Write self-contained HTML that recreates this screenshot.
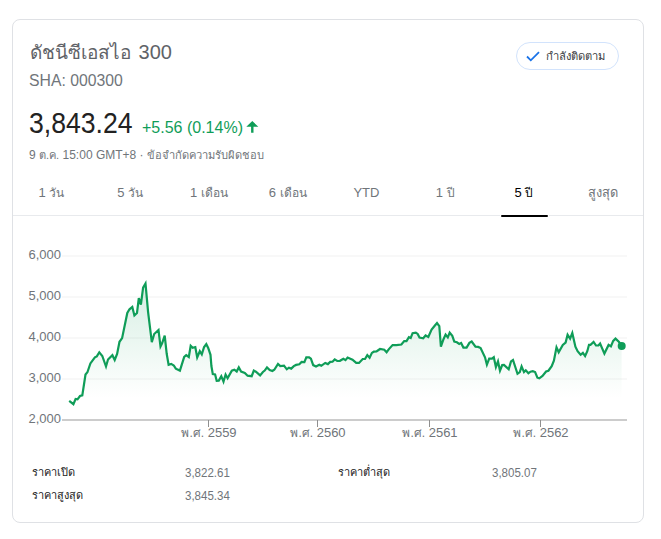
<!DOCTYPE html>
<html><head><meta charset="utf-8">
<style>
html,body{margin:0;padding:0;background:#fff;}
body{width:661px;height:539px;position:relative;overflow:hidden;font-family:"Liberation Sans",sans-serif;}
.card{position:absolute;left:12px;top:19px;width:630px;height:502px;border:1px solid #dfe1e5;border-radius:8px;}
.t{position:absolute;white-space:nowrap;line-height:1;}
.title{left:30px;top:42px;font-size:20px;color:#5f6368;}
.sha{left:29px;top:73px;font-size:16px;color:#70757a;transform:scaleX(0.985);transform-origin:0 0;}
.price{left:29px;top:109px;font-size:28px;color:#222;transform:scale(0.95,1.03);transform-origin:0 0;}
.chg{left:142px;top:120px;font-size:16px;color:#0f9d58;}
.date{left:29px;top:149px;font-size:12px;color:#70757a;}
.follow{position:absolute;left:516px;top:42px;width:101px;height:26px;border:1px solid #d2e3fc;border-radius:14px;}
.follow span{position:absolute;left:29px;top:8px;font-size:11.2px;color:#3c4043;line-height:1;white-space:nowrap;}
.tabs{position:absolute;left:12px;top:185px;width:630px;display:flex;}
.tabs div{flex:1;text-align:center;font-size:13px;color:#70757a;line-height:16px;}
.tabs div.sel{color:#000;}
.sep{position:absolute;left:13px;top:215px;width:487px;height:1px;background:#e8eaed;}
.sep2{position:absolute;left:549px;top:215px;width:94px;height:1px;background:#e8eaed;}
.ul{position:absolute;left:501px;top:215px;width:47px;height:2px;background:#000;border-radius:1px;}
.yl{position:absolute;left:0;width:61px;margin-top:-2px;text-align:right;font-size:13px;color:#70757a;line-height:1;}
.xl{position:absolute;width:100px;margin-top:-2px;text-align:center;font-size:13px;color:#70757a;line-height:1;}
.st{position:absolute;margin-top:1px;font-size:12px;line-height:1;white-space:nowrap;}
.lab{color:#222;}
.val{color:#70757a;transform:scaleX(0.96);transform-origin:0 0;}
</style></head><body>
<div class="card"></div>
<div class="t title"><span style="font-size:19px;margin-right:2px">ดัชนีซีเอสไอ</span> 300</div>
<div class="t sha">SHA: 000300</div>
<div class="t price">3,843.24</div>
<div class="t chg">+5.56 (0.14%)</div>
<svg style="position:absolute;left:0;top:0" width="661" height="539" viewBox="0 0 661 539">
<path d="M252.3 121 L258.3 126.8 L253.5 126.8 L253.5 132.8 L251.1 132.8 L251.1 126.8 L246.3 126.8 Z" fill="#0f9d58"/>
</svg>
<div class="t date">9 <span style="font-size:11.1px">ต.ค.</span> 15:00 GMT+8 · <span style="font-size:11.1px">ข้อจำกัดความรับผิดชอบ</span></div>
<div class="follow"><svg style="position:absolute;left:8.8px;top:7.6px" width="14" height="11" viewBox="0 0 14 11"><path d="M1 5.5 L4.8 9.3 L13 1.2" fill="none" stroke="#1a73e8" stroke-width="1.8"/></svg><span>กำลังติดตาม</span></div>
<div class="tabs"><div>1 <span style="font-size:12px">วัน</span></div><div>5 <span style="font-size:12px">วัน</span></div><div>1 <span style="font-size:12px">เดือน</span></div><div>6 <span style="font-size:12px">เดือน</span></div><div>YTD</div><div>1 <span style="font-size:12px">ปี</span></div><div class="sel">5 <span style="font-size:12px">ปี</span></div><div><span style="font-size:12.8px">สูงสุด</span></div></div>
<div class="sep"></div><div class="sep2"></div>
<div class="ul"></div>
<svg style="position:absolute;left:0;top:0" width="661" height="539" viewBox="0 0 661 539">
<defs><linearGradient id="g" x1="0" y1="281" x2="0" y2="398" gradientUnits="userSpaceOnUse"><stop offset="0" stop-color="#0f9d58" stop-opacity="0.17"/><stop offset="1" stop-color="#0f9d58" stop-opacity="0"/></linearGradient></defs>
<g fill="#f8f8f8"><rect x="62" y="255" width="565" height="2"/><rect x="62" y="296" width="565" height="2"/><rect x="62" y="337" width="565" height="2"/><rect x="62" y="378" width="565" height="2"/></g>
<polygon points="69.2,400.9 73.4,404.2 75.6,399 77.5,399.4 80,396 82.3,395.3 85.5,374.5 87.4,372.3 90.4,363.4 94.9,357.4 96.8,356.4 99.3,352.3 102.3,356 106,366.5 108,359.5 112.4,355.2 114.7,360 117.1,353.9 119.5,341.8 122.1,338.1 127.3,313 129.5,309.3 132.3,306.9 134.4,315.4 137,313 138.8,298.2 140.9,304.7 143.1,287.6 145.5,283.5 148.1,312.1 151.8,342.2 154.2,334 158.5,330 160.5,346.6 162.1,343.4 164.7,335.6 166.7,353.8 168.6,364.8 171.2,363.9 173.8,365.5 175.8,368.7 179.9,370.6 184.2,356.8 186.2,355.1 188.8,357 190.7,345.7 192.7,347.7 195.3,347 197.2,357.4 199.8,351.2 201.8,354.4 204.1,347 206.3,344 208.2,347.9 210.5,354.8 211.4,366 212.8,374.1 215.1,374.5 216.7,380.8 218.8,380.6 221.3,376.2 223.5,381.6 225.6,374.5 227.6,378.2 231.8,370.6 234.3,369.7 236.7,371.5 238.8,367.4 241.1,371.5 244.8,372.9 247.6,375.7 251.7,376.2 253.8,370.6 255.9,371.7 260.1,375.4 262.9,372 264.7,370.6 267,367.4 269.7,370 272.4,371 274.3,369.8 278,364 280.3,366.1 284,365.6 286.8,369.3 288.9,367.7 291.2,368.6 293.8,366.1 296.1,364.9 299.3,364.2 301.6,361.9 304.4,362.1 306.3,357.3 309.1,357.3 310.9,358.7 313.2,365.1 316,366.5 319.3,364.7 321.3,365.8 325.2,362.9 327.9,364.1 330.2,361.9 332.5,361.7 334.7,359.4 337.2,361 339.9,360.8 343.4,358.8 345.5,360.1 347.6,357.6 352.5,359.7 356.2,362.9 359,362.9 362.7,359 365,359 367.3,355.1 369.6,357.8 371.9,352.9 373.8,351.7 376.5,351.5 380,349 384.3,349.7 386.6,352.2 388.9,349.1 392.6,345.1 396.3,345.1 401.4,344.5 404.2,341.1 406.5,341.1 408.9,337.1 410.7,338 412.6,333.2 415.8,332.7 417.7,333.9 419.5,337.6 423.2,338.3 425.6,335.5 428.3,336.9 431.6,329.5 434.5,326 437,323 439.3,326.2 440.9,346.6 443.5,339.2 445.6,334.6 447.8,337.4 449.7,332.7 452.3,335.8 454.3,341.5 456.9,342.3 459.2,343.9 461.1,342.9 463.4,347.6 466.6,347.6 469.4,342.9 471.7,341.5 475.5,346.6 478.2,346.9 480.6,348 485,357.3 486.9,364.7 489.2,358.7 492,358.7 493.8,357.3 495.9,367 498,361.4 500,370.7 502.2,365.1 504,364.9 508.7,369.3 511,361.4 513,360 517.5,373.8 519.8,372.1 521.6,366.4 524,372.1 525.8,370.3 528.4,373.2 530.5,371.7 532.8,371.2 535.1,372.1 537.4,377.7 539.3,378.3 542.5,376 546.1,371.5 548.4,370.7 551.7,366.2 553.9,360.6 556.5,347.3 558.7,352.3 562.8,345 565.6,342.6 567.6,334.8 570.1,338.6 572.3,333 575.4,346.7 577.6,351.2 580.6,354.8 582.9,352.8 585.1,356 587.3,351.2 589,344.8 590.5,344.9 593.6,342 596,345.5 598.4,345.4 600.1,343.5 604.4,353.6 608.6,344.9 610.9,346.4 613.2,340.9 615.5,338.6 618.8,341.8 621.6,345.5 621.6,420 69.2,420" fill="url(#g)"/>
<rect x="62" y="419" width="565" height="2" fill="#cccccc"/>
<g fill="#8f8f8f"><rect x="208" y="420" width="1" height="7"/><rect x="317" y="420" width="1" height="7"/><rect x="429" y="420" width="1" height="7"/><rect x="540" y="420" width="1" height="7"/></g>
<polyline points="69.2,400.9 73.4,404.2 75.6,399 77.5,399.4 80,396 82.3,395.3 85.5,374.5 87.4,372.3 90.4,363.4 94.9,357.4 96.8,356.4 99.3,352.3 102.3,356 106,366.5 108,359.5 112.4,355.2 114.7,360 117.1,353.9 119.5,341.8 122.1,338.1 127.3,313 129.5,309.3 132.3,306.9 134.4,315.4 137,313 138.8,298.2 140.9,304.7 143.1,287.6 145.5,283.5 148.1,312.1 151.8,342.2 154.2,334 158.5,330 160.5,346.6 162.1,343.4 164.7,335.6 166.7,353.8 168.6,364.8 171.2,363.9 173.8,365.5 175.8,368.7 179.9,370.6 184.2,356.8 186.2,355.1 188.8,357 190.7,345.7 192.7,347.7 195.3,347 197.2,357.4 199.8,351.2 201.8,354.4 204.1,347 206.3,344 208.2,347.9 210.5,354.8 211.4,366 212.8,374.1 215.1,374.5 216.7,380.8 218.8,380.6 221.3,376.2 223.5,381.6 225.6,374.5 227.6,378.2 231.8,370.6 234.3,369.7 236.7,371.5 238.8,367.4 241.1,371.5 244.8,372.9 247.6,375.7 251.7,376.2 253.8,370.6 255.9,371.7 260.1,375.4 262.9,372 264.7,370.6 267,367.4 269.7,370 272.4,371 274.3,369.8 278,364 280.3,366.1 284,365.6 286.8,369.3 288.9,367.7 291.2,368.6 293.8,366.1 296.1,364.9 299.3,364.2 301.6,361.9 304.4,362.1 306.3,357.3 309.1,357.3 310.9,358.7 313.2,365.1 316,366.5 319.3,364.7 321.3,365.8 325.2,362.9 327.9,364.1 330.2,361.9 332.5,361.7 334.7,359.4 337.2,361 339.9,360.8 343.4,358.8 345.5,360.1 347.6,357.6 352.5,359.7 356.2,362.9 359,362.9 362.7,359 365,359 367.3,355.1 369.6,357.8 371.9,352.9 373.8,351.7 376.5,351.5 380,349 384.3,349.7 386.6,352.2 388.9,349.1 392.6,345.1 396.3,345.1 401.4,344.5 404.2,341.1 406.5,341.1 408.9,337.1 410.7,338 412.6,333.2 415.8,332.7 417.7,333.9 419.5,337.6 423.2,338.3 425.6,335.5 428.3,336.9 431.6,329.5 434.5,326 437,323 439.3,326.2 440.9,346.6 443.5,339.2 445.6,334.6 447.8,337.4 449.7,332.7 452.3,335.8 454.3,341.5 456.9,342.3 459.2,343.9 461.1,342.9 463.4,347.6 466.6,347.6 469.4,342.9 471.7,341.5 475.5,346.6 478.2,346.9 480.6,348 485,357.3 486.9,364.7 489.2,358.7 492,358.7 493.8,357.3 495.9,367 498,361.4 500,370.7 502.2,365.1 504,364.9 508.7,369.3 511,361.4 513,360 517.5,373.8 519.8,372.1 521.6,366.4 524,372.1 525.8,370.3 528.4,373.2 530.5,371.7 532.8,371.2 535.1,372.1 537.4,377.7 539.3,378.3 542.5,376 546.1,371.5 548.4,370.7 551.7,366.2 553.9,360.6 556.5,347.3 558.7,352.3 562.8,345 565.6,342.6 567.6,334.8 570.1,338.6 572.3,333 575.4,346.7 577.6,351.2 580.6,354.8 582.9,352.8 585.1,356 587.3,351.2 589,344.8 590.5,344.9 593.6,342 596,345.5 598.4,345.4 600.1,343.5 604.4,353.6 608.6,344.9 610.9,346.4 613.2,340.9 615.5,338.6 618.8,341.8 621.6,345.5" fill="none" stroke="#0f9d58" stroke-width="2.2" stroke-linejoin="miter" stroke-miterlimit="4"/>
<circle cx="621.7" cy="346" r="4" fill="#0f9d58"/>
</svg>
<div class="yl" style="top:250px">6,000</div>
<div class="yl" style="top:291px">5,000</div>
<div class="yl" style="top:332px">4,000</div>
<div class="yl" style="top:373px">3,000</div>
<div class="yl" style="top:414px">2,000</div>
<div class="xl" style="left:159px;top:428px"><span style="font-size:12px">พ.ศ.</span> 2559</div>
<div class="xl" style="left:268px;top:428px"><span style="font-size:12px">พ.ศ.</span> 2560</div>
<div class="xl" style="left:380px;top:428px"><span style="font-size:12px">พ.ศ.</span> 2561</div>
<div class="xl" style="left:491px;top:428px"><span style="font-size:12px">พ.ศ.</span> 2562</div>
<div class="st lab" style="left:32px;top:466px;font-size:11px">ราคาเปิด</div>
<div class="st val" style="left:185px;top:466px">3,822.61</div>
<div class="st lab" style="left:338px;top:466px;font-size:11px">ราคาต่ำสุด</div>
<div class="st val" style="left:492px;top:466px">3,805.07</div>
<div class="st lab" style="left:32px;top:489px;font-size:11px">ราคาสูงสุด</div>
<div class="st val" style="left:185px;top:489px">3,845.34</div>
</body></html>
